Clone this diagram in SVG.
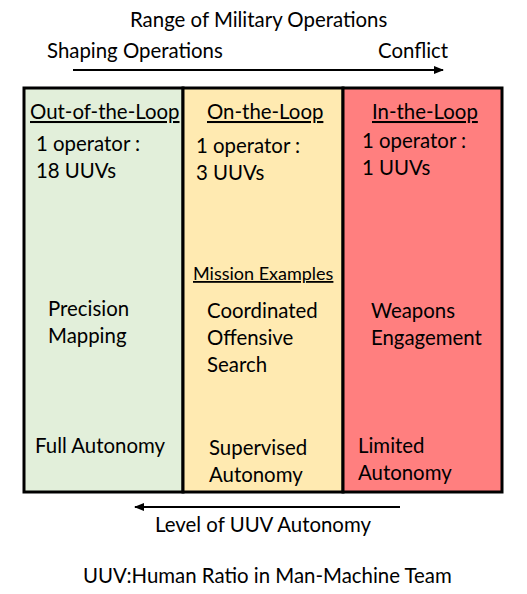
<svg xmlns="http://www.w3.org/2000/svg" width="527" height="594" viewBox="0 0 527 594">
<style>
text{font-family:Lato,"Open Sans","Liberation Sans",sans-serif;font-size:20.4px;fill:#000}
.u{text-decoration:underline}
.s{font-size:18px}
.ln{stroke:#000;stroke-width:2;fill:none}
</style>
<defs>
<marker id="ah" viewBox="0 0 10 10" refX="9" refY="5" markerWidth="5" markerHeight="5" orient="auto-start-reverse">
<path d="M0,1 L10,5 L0,9 z" fill="#000"/>
</marker>
</defs>
<rect width="527" height="594" fill="#fff"/>
<text x="130" y="27">Range of Military Operations</text>
<text x="47" y="58">Shaping Operations</text>
<text x="378" y="58">Conflict</text>
<g id="col-out">
<rect x="24" y="88" width="159" height="404" fill="#E2EFDA" stroke="#000" stroke-width="3"/>
<text x="30" y="119" class="u">Out-of-the-Loop</text>
<text x="36" y="151">1 operator :</text>
<text x="36" y="178">18 UUVs</text>
<text x="48" y="316">Precision</text>
<text x="48" y="343">Mapping</text>
<text x="35" y="453">Full Autonomy</text>
</g>
<g id="col-on">
<rect x="183" y="88" width="160" height="404" fill="#FFEAB1" stroke="#000" stroke-width="3"/>
<text x="207" y="119" class="u">On-the-Loop</text>
<text x="196" y="153">1 operator :</text>
<text x="196" y="180">3 UUVs</text>
<text x="193" y="280" class="u s">Mission Examples</text>
<text x="207" y="318">Coordinated</text>
<text x="207" y="345">Offensive</text>
<text x="207" y="372">Search</text>
<text x="209" y="455">Supervised</text>
<text x="209" y="482">Autonomy</text>
</g>
<g id="col-in">
<rect x="343" y="88" width="159" height="404" fill="#FF7F7F" stroke="#000" stroke-width="3"/>
<text x="372" y="119" class="u">In-the-Loop</text>
<text x="362" y="148">1 operator :</text>
<text x="362" y="175">1 UUVs</text>
<text x="371" y="318">Weapons</text>
<text x="371" y="345">Engagement</text>
<text x="358" y="453">Limited</text>
<text x="358" y="480">Autonomy</text>
</g>
<g id="connectors">
<line x1="73" y1="70" x2="443" y2="70" class="ln" marker-end="url(#ah)"/>
<line x1="400" y1="507" x2="135" y2="507" class="ln" marker-end="url(#ah)"/>
</g>
<text x="155" y="532">Level of UUV Autonomy</text>
<text x="83" y="583">UUV:Human Ratio in Man-Machine Team</text>
</svg>
